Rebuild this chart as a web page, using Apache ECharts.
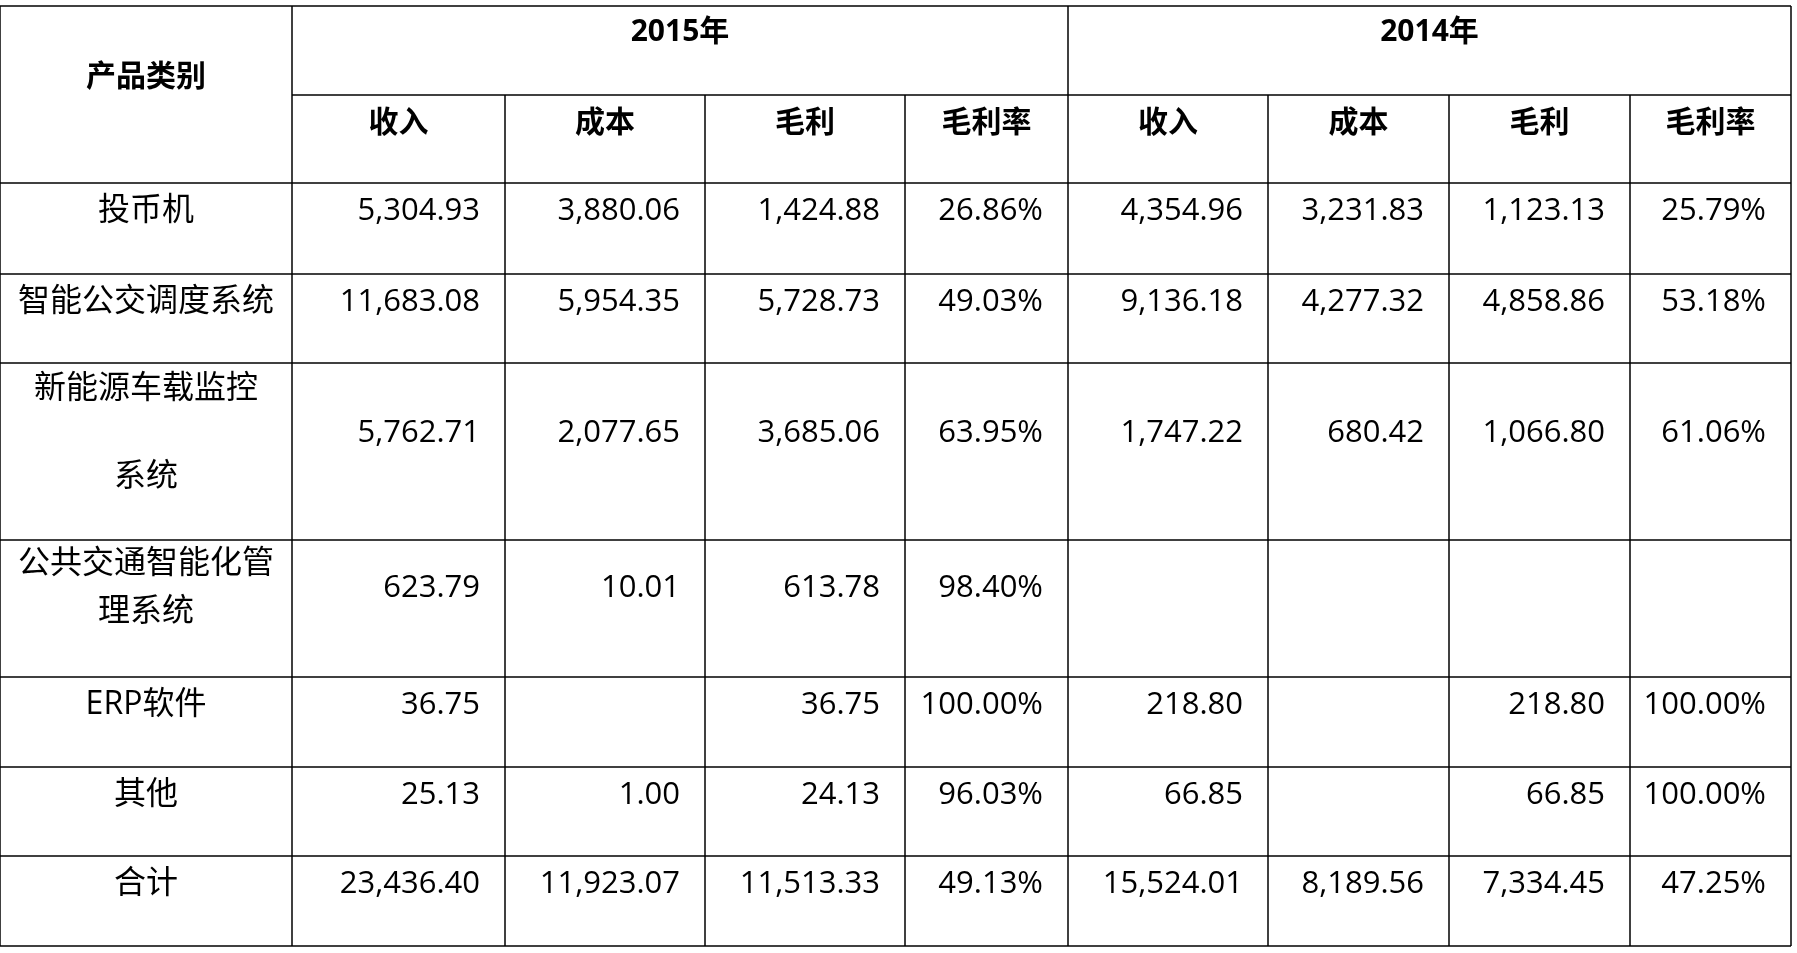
<!DOCTYPE html>
<html><head><meta charset="utf-8">
<script src="https://cdn.jsdelivr.net/npm/echarts@6/dist/echarts.min.js"></script>
<style>html,body{margin:0;padding:0;background:#fff}#c{width:1797px;height:953px}</style>
</head><body><div id="c"></div>
<script>
const years = ['2015年', '2014年'];
const subHeaders = ['收入', '成本', '毛利', '毛利率'];
const categories = ['投币机', '智能公交调度系统', '新能源车载监控\n\n系统', '公共交通智能化管\n理系统', 'ERP软件', '其他', '合计'];
const rev2015 = ['5,304.93', '11,683.08', '5,762.71', '623.79', '36.75', '25.13', '23,436.40'];
const cost2015 = ['3,880.06', '5,954.35', '2,077.65', '10.01', '', '1.00', '11,923.07'];
const gp2015 = ['1,424.88', '5,728.73', '3,685.06', '613.78', '36.75', '24.13', '11,513.33'];
const gm2015 = ['26.86%', '49.03%', '63.95%', '98.40%', '100.00%', '96.03%', '49.13%'];
const rev2014 = ['4,354.96', '9,136.18', '1,747.22', '', '218.80', '66.85', '15,524.01'];
const cost2014 = ['3,231.83', '4,277.32', '680.42', '', '', '', '8,189.56'];
const gp2014 = ['1,123.13', '4,858.86', '1,066.80', '', '218.80', '66.85', '7,334.45'];
const gm2014 = ['25.79%', '53.18%', '61.06%', '', '100.00%', '100.00%', '47.25%'];

// layout
const colX = [0, 292, 505, 705, 905, 1068, 1268, 1449, 1630, 1791];
const headTop = 6, headMid = 95, headBot = 183;
const rowY = [183, 274, 363, 540, 677, 767, 856, 946];
const font = '"Open Sans", "Noto Sans CJK SC", sans-serif';
const cols = [rev2015, cost2015, gp2015, gm2015, rev2014, cost2014, gp2014, gm2014];

const g = [];
function line(x1, y1, x2, y2) {
  g.push({type: 'line', shape: {x1, y1, x2, y2}, style: {stroke: '#000', lineWidth: 1.5}});
}
function text(t, x, y, align, bold, lh, size) {
  g.push({type: 'text', x, y, style: {text: t, fill: '#000', font: (bold ? 'bold ' : '') + (size || 31) + 'px ' + font,
    align, verticalAlign: 'middle', lineHeight: lh || 40}});
}
// borders
line(colX[0], headTop, colX[9], headTop);
line(colX[1], headMid, colX[9], headMid);
rowY.forEach(y => line(colX[0], y, colX[9], y));
[0, 1, 5, 9].forEach(i => line(colX[i], headTop, colX[i], rowY[rowY.length - 1]));
[2, 3, 4, 6, 7, 8].forEach(i => line(colX[i], headMid, colX[i], rowY[rowY.length - 1]));
// headers
text('产品类别', (colX[0] + colX[1]) / 2, 77, 'center', true, 40, 30);
text(years[0], (colX[1] + colX[5]) / 2, 32, 'center', true, 40, 30);
text(years[1], (colX[5] + colX[9]) / 2, 32, 'center', true, 40, 30);
for (let i = 0; i < 8; i++) {
  text(subHeaders[i % 4], (colX[i + 1] + colX[i + 2]) / 2, 123, 'center', true, 40, 30);
}
// body
categories.forEach((c, r) => {
  const top = rowY[r];
  const numY = r === 2 ? top + 70 : (r === 3 ? top + 48 : top + 28);
  if (r === 2) text(c, (colX[0] + colX[1]) / 2, top + 70, 'center', false, 44, 32);
  else if (r === 3) text(c, (colX[0] + colX[1]) / 2, top + 48, 'center', false, 48, 32);
  else text(c, (colX[0] + colX[1]) / 2, top + 28, 'center', false, 40, 32);
  cols.forEach((arr, i) => {
    if (arr[r]) text(arr[r], colX[i + 2] - 25, numY, 'right', false, 40, 31);
  });
});

const chart = echarts.init(document.getElementById('c'));
chart.setOption({backgroundColor: '#fff', graphic: {elements: g}});
</script></body></html>
